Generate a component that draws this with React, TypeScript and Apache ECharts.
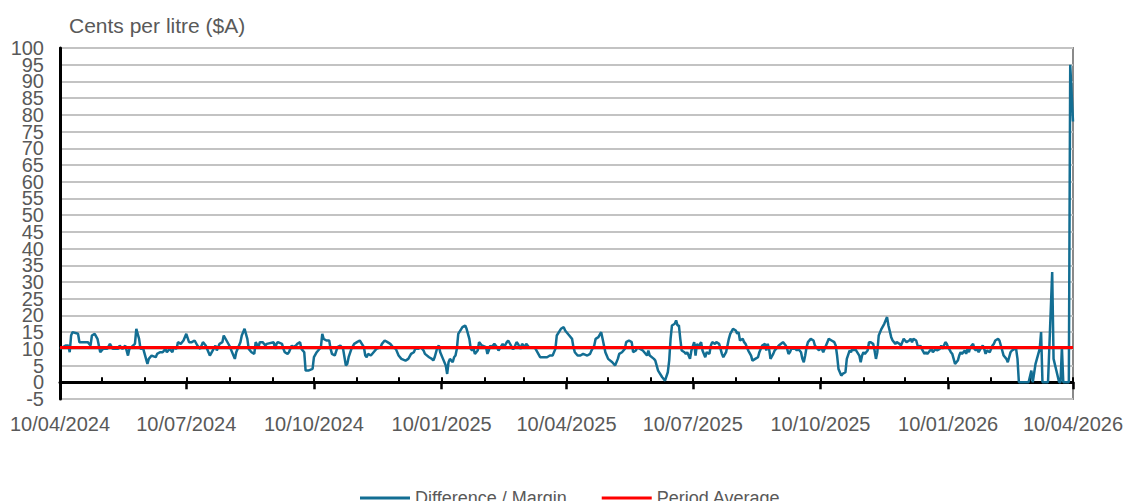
import React, { useEffect, useRef } from "react";
import * as echarts from "echarts";

// Day offsets from 10/04/2024 and the read margin values (cents per litre)
const startDate = "2024-04-10";
const dayOffsets: number[] = [
  0, 4, 6, 7, 8, 9, 13, 14, 18, 20, 22, 23, 25, 27, 29, 31, 34, 36, 38, 42, 43, 45, 47, 49, 50, 54, 55, 57, 58, 60,
  63, 64, 66, 69, 70, 72, 74, 76, 77, 79, 81, 82, 84, 85, 87, 89, 91, 93, 95, 97, 99, 101, 103, 105, 107, 108, 110,
  112, 113, 115, 117, 118, 120, 122, 123, 125, 126, 127, 129, 130, 131, 133, 135, 136, 138, 140, 141, 143,
  144, 146, 148, 149, 154, 155, 156, 157, 160, 161, 162, 164, 165, 167, 168, 170, 171, 173, 174, 176, 177, 179, 182,
  183, 185, 188, 189, 190, 192, 194, 195, 196, 198, 200, 202, 204, 206, 207, 208, 210, 212, 214, 216, 219, 220, 221,
  222, 224, 226, 228, 231, 232, 234, 236, 238, 240, 242, 244, 246, 249, 251, 253, 255, 256, 258, 260, 262, 263, 266,
  268, 269, 270, 272, 273, 274, 276, 278, 279, 280, 281, 283, 284, 285,
  286, 287, 290, 292, 293, 295, 296, 297, 298, 299, 301, 302, 304, 307, 308, 309, 310, 311, 313, 315, 316, 319, 320,
  322, 323, 325, 326, 327, 329, 330, 332, 333, 335, 336, 338, 342, 344, 346, 348, 351, 353, 355, 357, 358, 361, 363,
  364, 367, 369, 370, 371, 373, 375, 377, 380, 382, 383, 385, 386, 388, 390, 391, 392, 393, 394, 395, 398, 400, 402,
  403, 405, 407, 408, 410, 412, 413, 415, 416, 418, 420, 423, 424, 425, 428,
  429, 431, 434, 436, 438, 439, 440, 441, 443, 444, 445, 446, 447, 448, 450, 451, 452, 453, 454, 455, 457, 458, 459,
  460, 462, 463, 465, 466, 468, 469, 470, 472, 473, 475, 476, 477, 478, 480, 481, 482, 483, 485, 487, 488, 489, 490,
  492, 493, 494, 495, 496, 498, 499, 501, 503, 504, 505, 506, 508, 509, 510, 511, 512, 514, 515, 516, 518, 521, 523,
  524, 525, 526, 527, 530, 531, 532, 534, 535, 536, 537, 538, 539, 541, 543, 544, 546, 547, 548, 549, 550, 552, 553,
  554, 556, 558, 559, 560, 561, 563, 564, 566, 567, 569, 570, 571, 572,
  573, 576, 577, 578, 579, 580, 582, 583, 584, 586, 587, 588, 589, 590, 591, 592, 594, 596, 597, 599, 600, 601, 602,
  603, 605, 606, 607, 608, 609, 610, 612, 613, 614, 615, 617, 618, 619, 620, 621, 623, 624, 625, 627, 628, 629, 631,
  632, 634, 635, 636, 638, 639, 640, 642, 643, 644, 645, 647, 648, 649, 650, 652, 653, 654, 655, 656, 658, 659, 660,
  661, 662, 664, 665, 666, 667, 668, 670, 671, 672, 673, 674, 676, 677, 678, 679, 680, 682, 683, 684, 685, 686, 688,
  689, 690, 691, 698, 700, 701, 703, 705, 706, 707, 708, 712, 715, 716, 718, 720, 721, 722, 723, 727, 728, 730,
];
const marginValues: number[] = [
  10, 11, 11, 9, 14, 15, 14.5, 12, 12, 12, 11, 14, 14.5, 13, 9, 10, 10, 11.5, 10, 10, 11, 10, 11, 8, 10, 11.5, 16, 13,
  10, 10, 5.5, 7, 8, 7.5, 8.5, 9, 9, 10, 9, 10, 9, 10.5, 10, 12, 11.5, 12.5, 14.5, 12, 12, 12.5, 11, 10, 12, 11, 9, 8,
  9.5, 11, 9.5, 11.5, 12, 14, 12.5, 11, 10, 8, 7, 9, 11, 12, 14, 16, 13, 10, 9, 8.5, 12, 10.5,
  12, 12, 11, 11.5, 12, 10, 11.5, 12, 11.5, 10, 9, 8.5, 9, 11, 10.5, 11, 11.5, 12, 10, 9, 3.5, 3.5, 4, 7.5, 9, 10.5,
  14.5, 13, 12.5, 12.5, 10, 8.5, 8, 10.5, 11, 10, 5, 5.5, 7.5, 10, 11.5, 12, 12.5, 10.5, 8, 7.5, 8.5, 8, 9, 10, 10.5,
  11.5, 12.5, 12, 11.5, 10.5, 10, 8, 7, 6.5, 7, 8.5, 9, 10, 10, 10.5, 9.5, 8.5, 7.5, 7, 6.5, 7.5, 10.5, 11, 9, 7, 5,
  2.5, 6, 7, 6, 7.5, 8,
  10, 14.5, 16.5, 17, 16, 13, 10, 9.5, 10, 8.5, 9.5, 12, 11, 10.5, 8.5, 9.5, 11, 10.5, 11.5, 10.5, 9.5, 11.5, 10.5, 12,
  12.5, 11, 10, 10, 12, 11.5, 10, 11.5, 10.5, 11.5, 10.5, 10.5, 9, 7.5, 7.5, 7.5, 8, 8, 10, 14, 16, 16.5, 15.5, 14, 13,
  10.5, 9, 8, 8, 8.5, 8, 8.5, 9.5, 11, 13, 13.5, 15, 13, 11, 9, 8, 7, 6, 5, 7, 8.5, 9, 10, 12, 12.5, 12, 9, 9.5, 10.5,
  10, 9.5, 8, 9.5, 8, 7,
  6.5, 3.5, 1.5, 0.5, 3, 6.5, 13, 17, 17.5, 18.5, 17, 17, 13, 9.5, 9, 8.5, 9, 8, 7, 9.5, 12, 8, 11.5, 10.5, 12, 9.5,
  7.5, 9, 8.5, 11, 12, 11.5, 12, 11.5, 10, 8.5, 7.5, 9, 11, 13, 14.5, 16, 15.5, 14.5, 15, 12.5, 13, 12, 11.5, 10.5,
  9.5, 8, 6.5, 7, 7.5, 9, 10, 11, 11.5, 9.5, 11.5, 10, 7, 8.5, 9.5, 10, 11, 12, 11, 10, 8.5, 9, 10, 10, 9.5, 10, 9, 7,
  6, 8, 10.5, 12, 13, 12.5, 11, 10, 9.5, 10.5, 10, 9, 11, 12, 13, 12.5, 12, 11, 8, 4, 2, 2.5, 3, 7, 9.5, 9, 10, 9.5,
  10, 8, 6, 8, 9, 8.5, 9.5, 12, 12, 11.5, 9.5, 7, 9, 14, 15, 16, 17.5, 19.5, 17, 13.5, 12.5, 12, 11.5, 12, 11.5, 11,
  12, 13, 12.5, 12, 12.5, 13, 12, 13, 12.5, 11, 10.5, 11, 10, 8.5, 9, 8.5, 9.5, 10, 9, 10, 9.5, 10, 11, 10, 12, 11.5,
  10.5, 9, 8.5, 7, 5.5, 6.5, 8, 9, 8.5, 9.5, 8.5, 10, 9, 10.5, 11.5, 10, 9.5, 10, 9, 10.5, 11, 10, 8.5, 9.5, 9, 10,
  11, 11.5, 12.5, 13, 12.5, 11, 9.5, 8, 7, 6, 7.5, 9, 9.5, 10, 10, 7, 0, 0, 3.5, 0, 5.5, 8.5, 10, 15, 0, 0, 33, 7,
  3.5, 0, 0, 10.5, 0, 0, 95, 78,
];
const periodAverage = 10.4;

// Axis ticks
const quarterTicks = [
  "2024-04-10", "2024-07-10", "2024-10-10", "2025-01-10", "2025-04-10",
  "2025-07-10", "2025-10-10", "2026-01-10", "2026-04-10",
];
const monthTicks = [
  "2024-04-10", "2024-05-10", "2024-06-10", "2024-07-10", "2024-08-10", "2024-09-10", "2024-10-10",
  "2024-11-10", "2024-12-10", "2025-01-10", "2025-02-10", "2025-03-10", "2025-04-10", "2025-05-10",
  "2025-06-10", "2025-07-10", "2025-08-10", "2025-09-10", "2025-10-10", "2025-11-10", "2025-12-10",
  "2026-01-10", "2026-02-10", "2026-03-10", "2026-04-10",
];
// y tick labels, split into two interleaved sets so none is dropped as overlapping
const yTicksOdd = [-5, 5, 15, 25, 35, 45, 55, 65, 75, 85, 95];
const yTicksEven = [0, 10, 20, 30, 40, 50, 60, 70, 80, 90, 100];
const endDate = "2026-04-10";

const toTs = (s: string) => {
  const [y, m, d] = s.split("-").map(Number);
  return Date.UTC(y, m - 1, d);
};
const DAY = 86400000;
const START = toTs(startDate);
const toDay = (s: string) => Math.round((toTs(s) - START) / DAY);
const pad = (n: number) => (n < 10 ? "0" + n : "" + n);
const fmtDay = (v: number) => {
  const d = new Date(START + Math.round(v) * DAY);
  return pad(d.getUTCDate()) + "/" + pad(d.getUTCMonth() + 1) + "/" + d.getUTCFullYear();
};

const FONT = "'Liberation Sans', Arial, sans-serif";
const GREY = "#595959";

const yLabel = (values: number[]) => ({
  customValues: values,
  fontSize: 20,
  color: GREY,
  fontFamily: FONT,
  margin: 16,
  showMinLabel: true,
  showMaxLabel: true,
  hideOverlap: false,
});

export default function App() {
  const ref = useRef<HTMLDivElement>(null);
  useEffect(() => {
    if (!ref.current) return;
    const chart = echarts.init(ref.current, undefined, { renderer: "svg" });
    const endDay = toDay(endDate);
    const marginData = dayOffsets.map((d, i) => [d, marginValues[i]]);
    const quarterDays = quarterTicks.map(toDay);
    const monthDays = monthTicks.map(toDay);
    chart.setOption({
      animation: false,
      textStyle: { fontFamily: FONT },
      title: {
        text: "Cents per litre ($A)",
        left: 64,
        top: 10,
        textStyle: { fontSize: 21, fontWeight: "normal", color: GREY, fontFamily: FONT },
      },
      grid: {
        left: 60,
        right: 55,
        top: 48,
        bottom: 102,
        show: true,
        borderColor: "#8a8a8a",
        borderWidth: 2,
        containLabel: false,
      },
      legend: {
        left: 355,
        top: 484,
        itemWidth: 50,
        itemHeight: 3,
        itemGap: 35,
        textStyle: { fontSize: 18, color: GREY, fontFamily: FONT },
        data: [
          { name: "Difference / Margin", icon: "rect" },
          { name: "Period Average", icon: "rect" },
        ],
      },
      xAxis: [
        {
          type: "value",
          min: 0,
          max: endDay,
          position: "bottom",
          axisLine: { show: true, lineStyle: { color: "#000", width: 3 } },
          axisTick: {
            show: true,
            inside: false,
            length: 7,
            customValues: quarterDays,
            lineStyle: { color: "#000", width: 2.5 },
          },
          axisLabel: {
            show: true,
            customValues: quarterDays,
            formatter: (v: number) => fmtDay(v),
            fontSize: 20,
            color: GREY,
            fontFamily: FONT,
            margin: 15,
            showMinLabel: true,
            showMaxLabel: true,
            hideOverlap: false,
          },
          splitLine: { show: false },
        },
        {
          type: "value",
          min: 0,
          max: endDay,
          position: "bottom",
          axisLine: { show: false },
          axisTick: {
            show: true,
            inside: true,
            length: 5,
            customValues: monthDays,
            lineStyle: { color: "#000", width: 2 },
          },
          axisLabel: { show: false },
          splitLine: { show: false },
        },
      ],
      yAxis: [
        {
          type: "value",
          min: -5,
          max: 100,
          interval: 5,
          position: "left",
          axisLine: { show: true, lineStyle: { color: "#000", width: 3 } },
          axisTick: { show: false },
          axisLabel: yLabel(yTicksOdd),
          splitLine: { show: true, lineStyle: { color: "#c3c3c3", width: 2 } },
        },
        {
          type: "value",
          min: -5,
          max: 100,
          interval: 5,
          position: "left",
          offset: 0,
          axisLine: { show: false },
          axisTick: { show: false },
          axisLabel: yLabel(yTicksEven),
          splitLine: { show: false },
        },
      ],
      series: [
        {
          name: "Difference / Margin",
          type: "line",
          xAxisIndex: 0,
          yAxisIndex: 0,
          data: marginData,
          showSymbol: false,
          symbol: "none",
          lineStyle: { color: "#136e93", width: 2.5 },
          itemStyle: { color: "#136e93" },
          z: 3,
        },
        {
          name: "Period Average",
          type: "line",
          xAxisIndex: 0,
          yAxisIndex: 0,
          data: [
            [0, periodAverage],
            [endDay, periodAverage],
          ],
          showSymbol: false,
          symbol: "none",
          lineStyle: { color: "#ff0000", width: 3 },
          itemStyle: { color: "#ff0000" },
          z: 4,
        },
      ],
    });
    return () => chart.dispose();
  }, []);
  return (
    <div
      ref={ref}
      style={{ position: "fixed", left: 0, top: 0, width: 1128, height: 501, background: "#fff" }}
    />
  );
}
